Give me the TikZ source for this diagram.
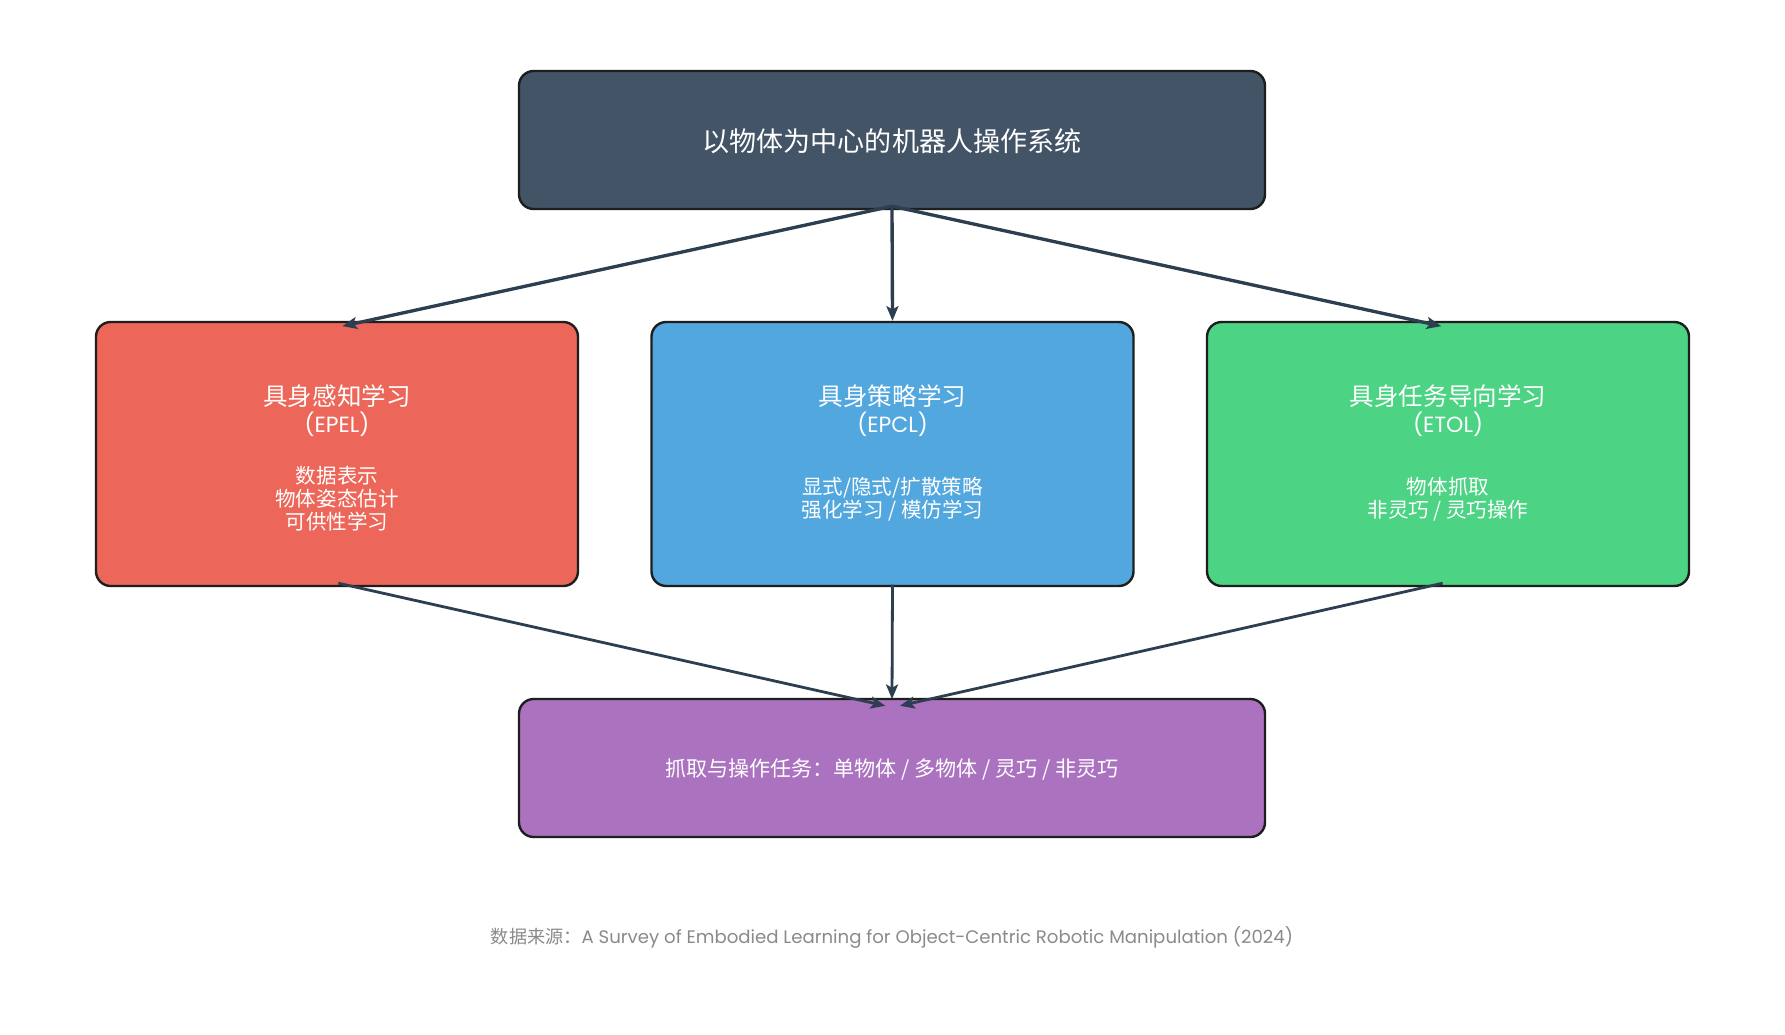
\documentclass[tikz,border=0pt]{standalone}
\usepackage{fontspec}
\setmainfont{Poppins}
\newfontfamily\cjk{Noto Sans CJK SC}
\usetikzlibrary{arrows.meta}

\definecolor{topfill}{HTML}{435466}
\definecolor{redfill}{HTML}{EC6759}
\definecolor{bluefill}{HTML}{52A7DE}
\definecolor{greenfill}{HTML}{4CD384}
\definecolor{purplefill}{HTML}{AB72C0}
\definecolor{boxline}{HTML}{1E1E1E}
\definecolor{arrowc}{HTML}{2C3E50}
\definecolor{notegray}{HTML}{8A8A8A}

\begin{document}
\begin{tikzpicture}[x=0.75pt,y=-0.75pt,
  box/.style={draw=boxline, line width=1.8pt, rounded corners=11pt,
              minimum width=361.5pt, minimum height=198pt, inner sep=0pt},
  wide/.style={box, minimum width=559.5pt, minimum height=103.5pt},
  head/.style={text=white, font=\cjk\fontsize{18.4}{20}\selectfont, inner sep=0pt},
  abbr/.style={text=white, font=\fontsize{16.5}{18}\selectfont, inner sep=0pt},
  items/.style={text=white, font=\cjk\fontsize{15.4}{17.3}\selectfont, align=center, inner sep=0pt},
  flow/.style={draw=arrowc, line width=2.5pt, -{Stealth[length=11pt,width=9pt,inset=2.5pt]}},
  flowin/.style={flow, line width=2.1pt},
]
\useasboundingbox (0,0) rectangle (1785,1035);
\fill[white] (0,0) rectangle (1785,1035);

% boxes
\node[wide, fill=topfill] (sys) at (892,140) {};
\node[box, fill=redfill] (epel) at (337,454) {};
\node[box, fill=bluefill] (epcl) at (892.5,454) {};
\node[box, fill=greenfill] (etol) at (1448,454) {};
\node[wide, fill=purplefill] (task) at (892,768) {};

% texts
\node[text=white, font=\cjk\fontsize{20.3}{24}\selectfont] (sysT) at ([yshift=-1pt]sys.center) {以物体为中心的机器人操作系统};

\node[head] (epelT) at (337,396) {具身感知学习};
\node[abbr] (epelA) at (337,424) {(EPEL)};
\node[items] (epelS) at (337,499) {数据表示\\物体姿态估计\\可供性学习};

\node[head] (epclT) at (892.5,396) {具身策略学习};
\node[abbr] (epclA) at (892.5,424) {(EPCL)};
\node[items] (epclS) at (892.5,499) {显式/隐式/扩散策略\\强化学习 / 模仿学习};

\node[head] (etolT) at (1448,396) {具身任务导向学习};
\node[abbr] (etolA) at (1448,424) {(ETOL)};
\node[items] (etolS) at (1448,499) {物体抓取\\非灵巧 / 灵巧操作};

\node[text=white, font=\cjk\fontsize{15.8}{18}\selectfont] (taskT) at ([yshift=-1pt]task.center) {抓取与操作任务：单物体 / 多物体 / 灵巧 / 非灵巧};

\node[text=notegray, font=\fontsize{13.6}{15}\selectfont] (src) at (892,937)
  {{\cjk 数据来源：}A Survey of Embodied Learning for Object-Centric Robotic Manipulation (2024)};

% connectors
\coordinate (sysout) at ([yshift=3pt]sys.south);
\draw[flow] (sysout) -- ([xshift=4pt,yshift=-4pt]epel.north);
\draw[flow] (sysout) -- (epcl.north);
\draw[flow] (sysout) -- ([xshift=-5pt,yshift=-4pt]etol.north);

\coordinate (taskin) at ([yshift=-1pt]task.north);
\draw[flowin] ([xshift=1pt,yshift=3pt]epel.south) -- ([xshift=-5pt,yshift=-5pt]taskin);
\draw[flowin] ([yshift=2pt]epcl.south) -- (taskin);
\draw[flowin] ([xshift=-4pt,yshift=3pt]etol.south) -- ([xshift=6pt,yshift=-5pt]taskin);
\end{tikzpicture}
\end{document}
